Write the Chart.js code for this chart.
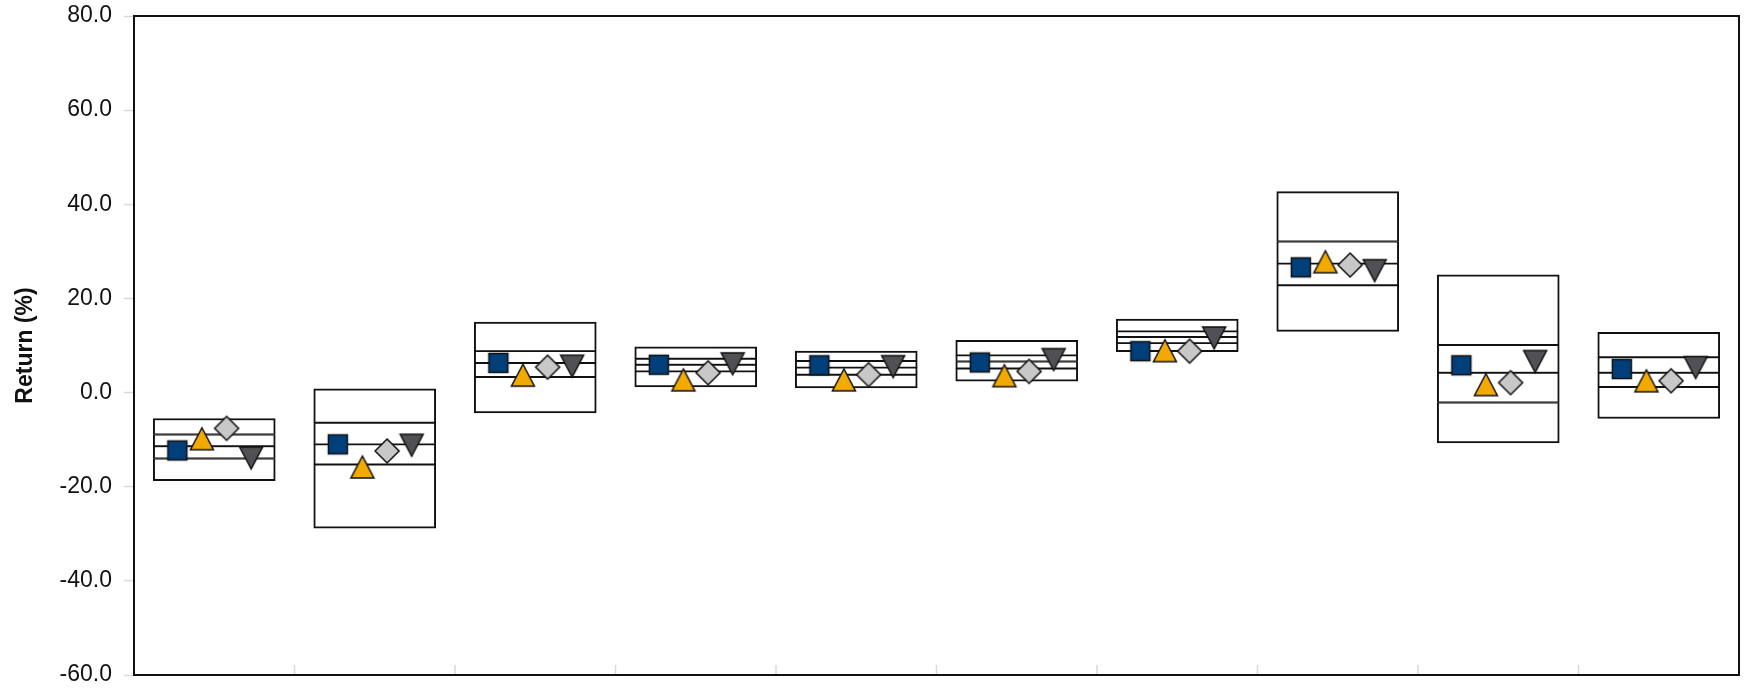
<!DOCTYPE html>
<html>
<head>
<meta charset="utf-8">
<script src="https://cdn.jsdelivr.net/npm/chart.js@4/dist/chart.umd.min.js"></script>
<style>
  html, body { margin: 0; padding: 0; background: #fff; }
</style>
</head>
<body>
<canvas id="myChart" width="1752" height="688"></canvas>
<script>
// ten groups, no labels shown on the axis
const categories = ['G1', 'G2', 'G3', 'G4', 'G5', 'G6', 'G7', 'G8', 'G9', 'G10'];

// box edges (bottom, three inner lines, top)
const lowVals  = [-18.7, -28.8, -4.3, 1.2, 1.0, 2.4,  8.7, 13.0, -10.7, -5.5];
const q1Vals   = [-14.0, -15.3,  3.3, 4.5, 3.8, 5.1, 10.5, 22.8,  -2.1,  1.2];
const medVals  = [-11.4, -11.0,  6.3, 5.9, 5.3, 6.6, 11.8, 27.4,   4.2,  4.2];
const q3Vals   = [ -8.9,  -6.4,  8.8, 7.2, 6.7, 7.9, 13.0, 32.1,  10.1,  7.5];
const highVals = [ -5.5,   0.8, 15.0, 9.7, 8.8, 11.1, 15.6, 42.7, 25.0, 12.8];

// the four marker series
const squareVals   = [-12.3, -11.0, 6.3, 5.9, 5.8, 6.4,  8.8, 26.6, 5.8, 5.0];
const triangleVals = [ -9.8, -15.8, 3.7, 2.7, 2.7, 3.6,  8.9, 27.8, 1.7, 2.5];
const diamondVals  = [ -7.6, -12.4, 5.4, 4.2, 3.8, 4.5,  8.8, 27.1, 2.1, 2.5];
const invTriVals   = [-13.9, -11.2, 5.6, 6.1, 5.5, 7.0, 11.6, 25.9, 6.6, 5.3];

const yTickValues = [-60, -40, -20, 0, 20, 40, 60, 80];

const FONT = "'Liberation Sans', Arial, sans-serif";

function makeMarker(shape, fill) {
  const c = document.createElement('canvas');
  c.width = 28; c.height = 28;
  const g = c.getContext('2d');
  g.beginPath();
  if (shape === 'square') {
    g.rect(4.5, 4.5, 19, 19);
  } else if (shape === 'up') {
    g.moveTo(14, 3); g.lineTo(25.5, 25); g.lineTo(2.5, 25); g.closePath();
  } else if (shape === 'diamond') {
    g.moveTo(14, 2); g.lineTo(26, 14); g.lineTo(14, 26); g.lineTo(2, 14); g.closePath();
  } else {
    g.moveTo(2.5, 3); g.lineTo(25.5, 3); g.lineTo(14, 25); g.closePath();
  }
  g.fillStyle = fill;
  g.fill();
  g.lineWidth = 1.5;
  g.strokeStyle = '#111';
  g.lineJoin = 'miter';
  g.stroke();
  return c;
}

const boxSegs = [[lowVals, q1Vals], [q1Vals, medVals], [medVals, q3Vals], [q3Vals, highVals]];

const boxSets = boxSegs.map(([a, b], k) => ({
  type: 'bar',
  label: 'box' + k,
  data: a.map((v, i) => ({ x: i, y: [v, b[i]] })),
  backgroundColor: '#ffffff',
  borderColor: '#111111',
  borderWidth: { left: 2, right: 2, top: k === 3 ? 2 : 1.3, bottom: k === 0 ? 2 : 1.3 },
  borderSkipped: false,
  barThickness: 122,
  grouped: false,
  order: 10
}));

function markerSet(label, vals, offset, style, order) {
  return {
    type: 'scatter',
    label: label,
    data: vals.map((v, i) => ({ x: i + offset, y: v })),
    pointStyle: style,
    pointRadius: 12,
    showLine: false,
    order: order
  };
}

const frame = {
  id: 'frame',
  afterDraw(chart) {
    const { ctx, chartArea: a, scales: { x } } = chart;
    ctx.save();
    ctx.strokeStyle = '#d9d9d9';
    ctx.lineWidth = 1.5;
    for (let i = 1; i < categories.length; i++) {
      const px = x.getPixelForValue(i - 0.5);
      ctx.beginPath();
      ctx.moveTo(px, a.bottom);
      ctx.lineTo(px, a.bottom - 10);
      ctx.stroke();
    }
    ctx.strokeStyle = '#111111';
    ctx.lineWidth = 2;
    ctx.strokeRect(a.left, a.top, a.right - a.left, a.bottom - a.top);
    ctx.restore();
  }
};

new Chart(document.getElementById('myChart'), {
  type: 'bar',
  data: {
    datasets: [
      markerSet('Series 1', squareVals, -0.23, makeMarker('square', '#003f7a'), 4),
      markerSet('Series 2', triangleVals, -0.077, makeMarker('up', '#f2aa00'), 3),
      markerSet('Series 3', diamondVals, 0.077, makeMarker('diamond', '#c8c8c8'), 2),
      markerSet('Series 4', invTriVals, 0.23, makeMarker('down', '#505055'), 1)
    ].concat(boxSets)
  },
  options: {
    responsive: false,
    animation: false,
    layout: { padding: { left: 0, top: 16, right: 9, bottom: 0 } },
    plugins: { legend: { display: false }, tooltip: { enabled: false } },
    scales: {
      x: {
        type: 'linear',
        min: -0.5,
        max: categories.length - 0.5,
        offset: false,
        ticks: { display: false },
        grid: { display: false },
        border: { display: false },
        afterFit: s => { s.height = 11; }
      },
      y: {
        min: -60,
        max: 80,
        afterBuildTicks: s => { s.ticks = yTickValues.map(v => ({ value: v })); },
        ticks: {
          callback: v => v.toFixed(1),
          font: { family: FONT, size: 23, lineHeight: 1 },
          color: '#111',
          padding: 12
        },
        grid: { drawOnChartArea: false, tickLength: 10, tickColor: '#d9d9d9', tickWidth: 1.5 },
        border: { display: false },
        title: {
          display: true,
          text: 'Return (%)',
          font: { family: FONT, size: 23, weight: 'bold' },
          color: '#111',
          padding: { top: 12, bottom: 0 }
        },
        afterFit: s => { s.width = 134; s.paddingTop = 0; s.paddingBottom = 0; }
      }
    }
  },
  plugins: [frame]
});
</script>
</body>
</html>
